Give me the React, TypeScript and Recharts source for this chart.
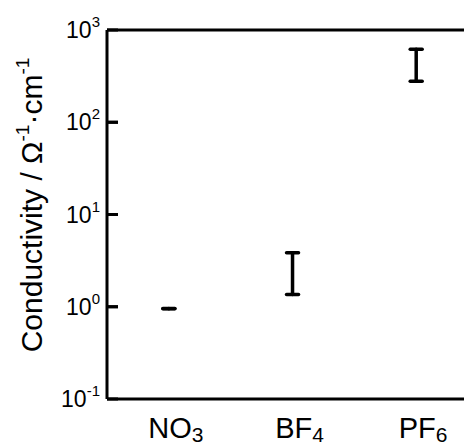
import React from 'react';
import { ComposedChart, Bar, XAxis, YAxis, ReferenceLine } from 'recharts';

const categories = ['NO3', 'BF4', 'PF6'];
const labelBase = ['NO', 'BF', 'PF'];
const labelSub = ['3', '4', '6'];
const lowValues = [0.95, 1.36, 278];
const highValues = [0.955, 3.85, 620];
const yTicks = [0.1, 1, 10, 100, 1000];
const yTickExponents = ['-1', '0', '1', '2', '3'];
const innerTicks = [1, 10, 100];

const data = categories.map((c, i) => ({ name: c, range: [lowValues[i], highValues[i]] }));

const FONT = '"Liberation Sans", Arial, Helvetica, sans-serif';
const AXIS = { stroke: '#000', strokeWidth: 3 };
const TICK_LEN = 11;

const XTick = (props: any) => {
  const { x, y, payload } = props;
  const i = categories.indexOf(payload.value);
  return (
    <text x={x + 7} y={y + 39} textAnchor="middle" fontFamily={FONT} fontSize={29} fill="#000">
      <tspan>{labelBase[i]}</tspan>
      <tspan fontSize={21} dy={4}>{labelSub[i]}</tspan>
    </text>
  );
};

const YTickLeft = (props: any) => {
  const { x, y, payload } = props;
  const i = yTicks.indexOf(payload.value);
  return (
    <g>
      <line x1={x} x2={x + TICK_LEN} y1={y} y2={y} stroke="#000" strokeWidth={3} />
      <text x={x - 7} y={y + 8} textAnchor="end" fontFamily={FONT} fontSize={23} fill="#000">
        <tspan>10</tspan>
        <tspan fontSize={15} dy={-11}>{yTickExponents[i]}</tspan>
      </text>
    </g>
  );
};

const TickPair = (props: any) => {
  let x1 = props.x1;
  let x2 = props.x2;
  let y = props.y1;
  if (x1 == null && props.points) {
    x1 = props.points[0].x;
    x2 = props.points[1].x;
    y = props.points[0].y;
  }
  if (x1 == null || x2 == null || y == null) return null;
  const left = Math.min(x1, x2);
  const right = Math.max(x1, x2);
  return (
    <g stroke="#000" strokeWidth={3}>
      <line x1={left} x2={left + TICK_LEN} y1={y} y2={y} />
      <line x1={right - TICK_LEN} x2={right} y1={y} y2={y} />
    </g>
  );
};

const RangeShape = (props: any) => {
  const { x, y, width, height } = props;
  if (x == null || y == null) return null;
  const cx = x + width / 2;
  const top = y;
  const bottom = y + height;
  const hw = 6;
  return (
    <g stroke="#000" strokeWidth={3.5} strokeLinecap="round">
      <line x1={cx} x2={cx} y1={top} y2={bottom} />
      <line x1={cx - hw} x2={cx + hw} y1={top} y2={top} />
      <line x1={cx - hw} x2={cx + hw} y1={bottom} y2={bottom} />
    </g>
  );
};

export default function App() {
  return (
    <div style={{ position: 'relative', width: 464, height: 438, overflow: 'hidden' }}>
      <ComposedChart
        width={480}
        height={438}
        data={data}
        margin={{ top: 22, right: 10, bottom: 0, left: 0 }}
      >
        <XAxis
          dataKey="name"
          height={47}
          axisLine={AXIS}
          tickLine={false}
          tickSize={0}
          tickMargin={0}
          tick={<XTick />}
          interval={0}
        />
        <XAxis
          xAxisId="top"
          dataKey="name"
          orientation="top"
          mirror
          height={2}
          axisLine={AXIS}
          tickLine={false}
          tick={false}
        />
        <YAxis
          yAxisId="left"
          scale="log"
          domain={[0.1, 1000]}
          ticks={yTicks}
          allowDataOverflow
          interval={0}
          width={99}
          axisLine={AXIS}
          tickLine={false}
          tickSize={0}
          tickMargin={0}
          tick={<YTickLeft />}
        />
        {innerTicks.map((v) => (
          <ReferenceLine
            key={v}
            yAxisId="left"
            y={v}
            stroke="#000"
            strokeWidth={3}
            shape={(p: any) => <TickPair {...p} />}
          />
        ))}
        <Bar
          yAxisId="left"
          dataKey="range"
          shape={<RangeShape />}
          isAnimationActive={false}
        />
      </ComposedChart>
      <svg
        width={60}
        height={438}
        style={{ position: 'absolute', left: 0, top: 0, pointerEvents: 'none' }}
      >
        <text
          transform="translate(34,197) rotate(-90)"
          textAnchor="middle"
          fontFamily={FONT}
          fontSize={30}
          fill="#000"
        >
          <tspan>Conductivity / Ω</tspan>
          <tspan fontSize={19} dy={-13}>-1</tspan>
          <tspan dy={13}>·cm</tspan>
          <tspan fontSize={19} dy={-13}>-1</tspan>
        </text>
      </svg>
    </div>
  );
}
